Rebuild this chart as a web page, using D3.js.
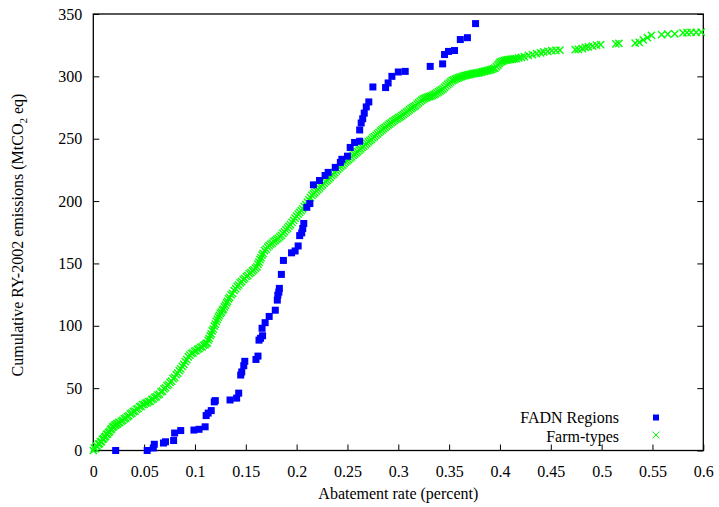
<!DOCTYPE html>
<html>
<head>
<meta charset="utf-8">
<script src="https://cdn.jsdelivr.net/npm/d3@7"></script>
<style>
  html, body { margin: 0; padding: 0; background: #fff; }
  svg { display: block; font-family: "Liberation Serif", "DejaVu Serif", serif; }
</style>
</head>
<body>
<svg id="chart" width="719" height="507"></svg>
<script>
// abatement rate vs cumulative emissions
const xTicks = [0, 0.05, 0.1, 0.15, 0.2, 0.25, 0.3, 0.35, 0.4, 0.45, 0.5, 0.55, 0.6];
const yTicks = [0, 50, 100, 150, 200, 250, 300, 350];
const seriesNames = ["FADN Regions", "Farm-types"];

const fadnRegions = [
  [0.022, 0], [0.053, 0], [0.059, 2], [0.060, 5], [0.069, 6], [0.071, 7], [0.079, 8],
  [0.080, 14], [0.086, 16], [0.099, 16.4], [0.104, 17], [0.110, 19], [0.111, 28],
  [0.113, 30], [0.116, 32], [0.119, 39], [0.120, 40], [0.1345, 40.5], [0.141, 42],
  [0.143, 46], [0.145, 60.5], [0.146, 63], [0.148, 68], [0.149, 71.5], [0.160, 73],
  [0.162, 75.7], [0.163, 88.5], [0.1645, 90], [0.1665, 92], [0.166, 98], [0.169, 102.5],
  [0.173, 107.5], [0.179, 112.5], [0.181, 120.6], [0.1815, 124.6], [0.1825, 127],
  [0.183, 130], [0.185, 141.2], [0.187, 152.4], [0.195, 158.5], [0.1985, 160],
  [0.2015, 164], [0.203, 172.3], [0.205, 174.5], [0.206, 178], [0.207, 182], [0.210, 195],
  [0.213, 198], [0.2165, 213], [0.2225, 216.5], [0.228, 220.5], [0.231, 223], [0.238, 227],
  [0.243, 231], [0.2445, 233.5], [0.250, 236], [0.2527, 243], [0.257, 247], [0.262, 248],
  [0.262, 257], [0.2635, 262.6], [0.265, 266], [0.2665, 270.5], [0.2685, 275.5],
  [0.271, 279.5], [0.275, 291.5], [0.2875, 291], [0.290, 294.7], [0.2937, 300],
  [0.300, 303.5], [0.3068, 304], [0.3314, 308], [0.3436, 310], [0.3455, 317.5],
  [0.3494, 320], [0.3553, 320.7], [0.361, 329.5], [0.368, 331], [0.376, 342.3]
];

const farmTypesMain = [
  [0, 0], [0.002, 1.5], [0.004, 3.2], [0.006, 5.4], [0.008, 7.1], [0.010, 9.3], [0.012, 11.4],
  [0.014, 13.2], [0.016, 15.1], [0.018, 17.4], [0.020, 19.2], [0.022, 20.4], [0.024, 21.3],
  [0.026, 22.4], [0.029, 24.1], [0.032, 25.9], [0.035, 27.8], [0.038, 29.9], [0.041, 31.6],
  [0.044, 33.7], [0.047, 35.4], [0.050, 37.1], [0.053, 38.2], [0.056, 39.4], [0.059, 41.3],
  [0.062, 43.2], [0.065, 45.1], [0.068, 47.6], [0.071, 50.3], [0.074, 52.9], [0.077, 55.6],
  [0.080, 58.7], [0.083, 62.1], [0.086, 65.4], [0.089, 69.1], [0.092, 72.8], [0.095, 76.4],
  [0.098, 78.3], [0.101, 80.0], [0.104, 81.6], [0.107, 83.1], [0.110, 84.9], [0.112, 86.2],
  [0.114, 89.8], [0.116, 93.5], [0.118, 97.4], [0.120, 101.3], [0.122, 105.1], [0.124, 108.3],
  [0.126, 111.0], [0.128, 113.4], [0.130, 116.5], [0.132, 119.6], [0.134, 122.8],
  [0.137, 125.9], [0.140, 129.8], [0.143, 132.7], [0.146, 135.4], [0.149, 137.9],
  [0.152, 140.3], [0.155, 142.6], [0.158, 144.8], [0.161, 147.2], [0.163, 151.0],
  [0.165, 154.6], [0.167, 158.1], [0.170, 161.5], [0.173, 164.2], [0.176, 166.3],
  [0.179, 168.4], [0.182, 170.2], [0.185, 172.5], [0.188, 175.4], [0.191, 178.3],
  [0.194, 181.1], [0.197, 184.6], [0.200, 188.0], [0.203, 190.9], [0.206, 193.7],
  [0.209, 197.2], [0.212, 200.9], [0.215, 204.5], [0.218, 206.8], [0.221, 209.3],
  [0.224, 211.8], [0.227, 214.3], [0.230, 216.6], [0.233, 219.0], [0.236, 221.5],
  [0.239, 224.1], [0.242, 226.6], [0.245, 228.8], [0.248, 231.2], [0.251, 233.3],
  [0.254, 235.5], [0.257, 237.6], [0.260, 239.7], [0.263, 241.9], [0.266, 244.1],
  [0.269, 246.3], [0.272, 248.4], [0.275, 250.6], [0.278, 252.8], [0.281, 255.0],
  [0.284, 257.1], [0.287, 259.0], [0.290, 261.0], [0.293, 262.8], [0.296, 264.6],
  [0.299, 266.1], [0.302, 267.6], [0.305, 269.4], [0.308, 271.3], [0.311, 273.2],
  [0.314, 275.0], [0.317, 276.6], [0.320, 278.8], [0.323, 280.9], [0.326, 282.4],
  [0.329, 283.3], [0.332, 284.2], [0.335, 285.3], [0.338, 286.8], [0.341, 288.4],
  [0.344, 290.0], [0.347, 292.3], [0.350, 294.6], [0.353, 296.6], [0.356, 297.8],
  [0.359, 298.8], [0.362, 299.7], [0.365, 300.5], [0.368, 301.1], [0.371, 301.7],
  [0.374, 302.2], [0.377, 302.6], [0.380, 303.0], [0.383, 303.7], [0.386, 304.3],
  [0.389, 304.9], [0.392, 305.6], [0.395, 306.6], [0.398, 309.0], [0.400, 311.2],
  [0.403, 312.3], [0.406, 313.0], [0.409, 313.5], [0.412, 313.8], [0.416, 314.2],
  [0.421, 315.2], [0.424, 315.8], [0.428, 316.9], [0.432, 317.5], [0.436, 318.3],
  [0.440, 318.9], [0.443, 319.6], [0.447, 320.1], [0.451, 320.6], [0.455, 320.9],
  [0.459, 321.1], [0.474, 321.5], [0.477, 321.6], [0.481, 322.3], [0.484, 323.2],
  [0.487, 323.6], [0.491, 324.2], [0.495, 325.0], [0.499, 325.5], [0.514, 326.1],
  [0.517, 326.4], [0.533, 326.6], [0.537, 327.2], [0.541, 329.2], [0.545, 331.0],
  [0.549, 332.8], [0.559, 333.5], [0.565, 333.8], [0.572, 334.0], [0.580, 334.9],
  [0.584, 335.1], [0.588, 335.2], [0.593, 335.3], [0.598, 335.4]
];

// the dense lower part of the farm-type cloud holds many more points
const farmTypesDense = [
  [0.001, 1.9], [0.003, 3.6], [0.005, 5.1], [0.007, 7.0], [0.009, 8.9], [0.011, 10.8],
  [0.013, 12.9], [0.015, 14.6], [0.017, 16.8], [0.019, 18.7], [0.021, 20.3], [0.023, 21.4],
  [0.025, 22.5], [0.0275, 23.6], [0.0305, 25.3], [0.0335, 27.2], [0.0365, 29.3],
  [0.0395, 31.2], [0.0425, 33.0], [0.0455, 35.1], [0.0485, 36.8], [0.0515, 38.1],
  [0.0545, 39.2], [0.0575, 40.8], [0.0605, 42.6], [0.0635, 44.5], [0.0665, 47.0],
  [0.0695, 49.4], [0.0725, 52.0], [0.0755, 54.6], [0.0785, 57.6], [0.0815, 60.8],
  [0.0845, 64.1], [0.0875, 67.5], [0.0905, 71.3], [0.0935, 75.0], [0.0965, 77.8],
  [0.0995, 79.6], [0.1025, 81.2], [0.1055, 82.8], [0.1085, 84.4], [0.111, 86.0],
  [0.113, 88.4], [0.115, 92.0], [0.117, 95.9], [0.119, 99.8], [0.121, 103.6], [0.123, 107.0],
  [0.125, 110.0], [0.127, 112.6], [0.129, 115.2], [0.131, 118.3], [0.133, 121.5],
  [0.1355, 124.8], [0.1385, 128.3], [0.1415, 131.6], [0.1445, 134.4], [0.1475, 137.0],
  [0.1505, 139.5], [0.1535, 141.8], [0.1565, 144.0], [0.1595, 146.2], [0.162, 149.4],
  [0.164, 153.0], [0.166, 156.6], [0.1685, 160.2], [0.1715, 163.0], [0.1745, 165.4],
  [0.1775, 167.5], [0.1805, 169.4], [0.1835, 171.4], [0.1865, 174.1], [0.1895, 177.0],
  [0.1925, 179.8], [0.1955, 183.0], [0.1985, 186.4], [0.2015, 189.6], [0.2045, 192.4],
  [0.2075, 195.5], [0.2105, 199.1], [0.2135, 202.8], [0.2165, 205.8], [0.2195, 208.1],
  [0.2225, 210.6], [0.2255, 213.0], [0.2285, 215.5], [0.2315, 217.8], [0.2345, 220.3],
  [0.2375, 222.8], [0.2405, 225.4], [0.2435, 227.8], [0.2465, 230.0], [0.2495, 232.3],
  [0.2525, 234.4], [0.2555, 236.6], [0.2585, 238.7], [0.2615, 240.8], [0.2645, 243.0],
  [0.2675, 245.2], [0.2705, 247.4], [0.2735, 249.5], [0.2765, 251.7], [0.2795, 253.9],
  [0.2825, 256.1], [0.2855, 258.1], [0.2885, 260.0], [0.2915, 261.9], [0.2945, 263.7],
  [0.2975, 265.4], [0.3005, 266.9], [0.3035, 268.5], [0.3065, 270.4], [0.3095, 272.2],
  [0.3125, 274.1], [0.3155, 275.8], [0.3185, 277.7], [0.3215, 279.9], [0.3245, 281.7],
  [0.3275, 282.9], [0.3305, 283.8], [0.3335, 284.7], [0.3365, 286.0], [0.3395, 287.6],
  [0.3425, 289.2], [0.3455, 291.1], [0.3485, 293.5], [0.3515, 295.6], [0.3545, 297.2],
  [0.3575, 298.3], [0.3605, 299.3], [0.3635, 300.1], [0.3665, 300.8], [0.3695, 301.4],
  [0.3725, 302.0], [0.3755, 302.4], [0.3785, 302.8], [0.3815, 303.4], [0.3845, 304.0],
  [0.3875, 304.6], [0.3905, 305.2], [0.3935, 306.1], [0.3965, 307.8], [0.399, 310.1],
  [0.4015, 311.8], [0.4045, 312.7], [0.4075, 313.2], [0.4105, 313.6], [0.414, 314.0],
  [0.4185, 314.7]
];

const margin = { left: 93.3, right: 703.3, top: 14, bottom: 450.5 };
const blue = "#0000ff";
const green = "#00ff00";

const svg = d3.select("#chart");
const x = d3.scaleLinear().domain([0, 0.6]).range([margin.left, margin.right]);
const y = d3.scaleLinear().domain([0, 350]).range([margin.bottom, margin.top]);

const fmt = (d) => String(+d.toFixed(2));

const xAxis = svg.append("g")
  .attr("transform", `translate(0,${margin.bottom})`)
  .call(d3.axisBottom(x).tickValues(xTicks).tickFormat(fmt).tickSizeInner(-6).tickSizeOuter(0).tickPadding(15));
const yAxis = svg.append("g")
  .attr("transform", `translate(${margin.left},0)`)
  .call(d3.axisLeft(y).tickValues(yTicks).tickSizeInner(-6).tickSizeOuter(0).tickPadding(11));
const yMirror = svg.append("g")
  .attr("transform", `translate(${margin.right},0)`)
  .call(d3.axisRight(y).tickValues(yTicks).tickFormat("").tickSizeInner(-6).tickSizeOuter(0));

[xAxis, yAxis, yMirror].forEach((g) => {
  g.select(".domain").remove();
  g.selectAll("line").attr("stroke", "#000").attr("stroke-width", 1);
  g.selectAll("text").attr("fill", "#000").attr("font-size", 16)
    .attr("font-family", "'Liberation Serif', serif");
});

// plot frame
svg.append("rect")
  .attr("x", margin.left).attr("y", margin.top)
  .attr("width", margin.right - margin.left).attr("height", margin.bottom - margin.top)
  .attr("fill", "none").attr("stroke", "#000").attr("stroke-width", 1.3);

const plot = svg.append("g");

// farm-types: small crosses
const cross = (cx, cy, r) => `M${cx - r},${cy - r}L${cx + r},${cy + r}M${cx - r},${cy + r}L${cx + r},${cy - r}`;
plot.selectAll("path.farm")
  .data(farmTypesMain.concat(farmTypesDense))
  .join("path")
  .attr("class", "farm")
  .attr("d", (d) => cross(x(d[0]), y(d[1]), 3.6))
  .attr("stroke", green)
  .attr("stroke-width", 1.4)
  .attr("fill", "none");

// FADN regions: filled squares
plot.selectAll("rect.fadn")
  .data(fadnRegions)
  .join("rect")
  .attr("class", "fadn")
  .attr("x", (d) => x(d[0]) - 3.5)
  .attr("y", (d) => y(d[1]) - 3.5)
  .attr("width", 7)
  .attr("height", 7)
  .attr("fill", blue);

// legend
const legend = svg.append("g").attr("font-size", 16);
legend.append("text").attr("x", 619).attr("y", 423).attr("text-anchor", "end").text(seriesNames[0]);
legend.append("rect").attr("x", 653).attr("y", 414.5).attr("width", 6).attr("height", 6).attr("fill", blue);
legend.append("text").attr("x", 619).attr("y", 442).attr("text-anchor", "end").text(seriesNames[1]);
legend.append("path").attr("d", cross(656, 435, 3.5)).attr("stroke", green).attr("stroke-width", 1);

// axis titles
svg.append("text")
  .attr("x", (margin.left + margin.right) / 2).attr("y", 499)
  .attr("text-anchor", "middle").attr("font-size", 16)
  .text("Abatement rate (percent)");

const yTitle = svg.append("text")
  .attr("transform", "translate(23,235) rotate(-90)")
  .attr("text-anchor", "middle").attr("font-size", 16);
yTitle.append("tspan").text("Cumulative RY-2002 emissions (MtCO");
yTitle.append("tspan").attr("font-size", 11).attr("dy", 4).text("2");
yTitle.append("tspan").attr("dy", -4).text(" eq)");
</script>
</body>
</html>
